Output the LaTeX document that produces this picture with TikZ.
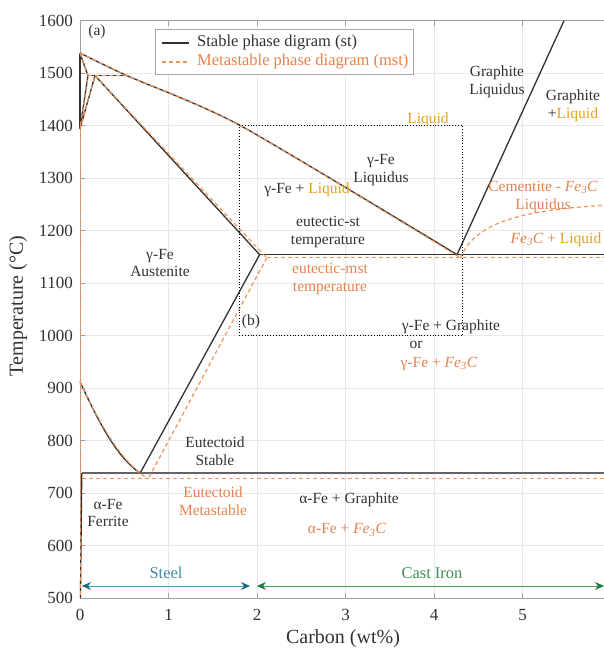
\documentclass[tikz,border=0pt]{standalone}
\usepackage{fontspec}
\setmainfont{Liberation Serif}
\usetikzlibrary{arrows.meta}
\definecolor{stc}{RGB}{50,50,50}
\definecolor{mstc}{RGB}{236,150,92}
\definecolor{orgtxt}{RGB}{228,130,80}
\definecolor{goldc}{RGB}{232,160,30}
\definecolor{steelc}{RGB}{80,165,195}
\definecolor{steelh}{RGB}{25,105,130}
\definecolor{castc}{RGB}{70,160,95}
\definecolor{casth}{RGB}{30,120,55}
\tikzset{
  gridc/.style={draw=gray!18, line width=0.6pt},
  framec/.style={draw=gray!75, line width=0.8pt},
  stl/.style={draw=stc, line width=1.3pt, line join=round},
  stthick/.style={draw=stc!75, line width=2.2pt},
  mst/.style={draw=mstc, line width=1.2pt, dash pattern=on 4pt off 3pt},
  lab/.style={font=\fontsize{15.5}{17.5}\selectfont, align=center, inner sep=0pt, text=stc},
  olab/.style={lab, text=orgtxt},
  ticklab/.style={font=\fontsize{17}{19}\selectfont, inner sep=0pt, text=stc},
  axlab/.style={font=\fontsize{20}{22}\selectfont, inner sep=0pt, text=stc},
  legtxt/.style={font=\fontsize{16.5}{18}\selectfont, inner sep=0pt, anchor=west},
  steelarrow/.style={draw=steelc, line width=0.9pt, {Stealth[length=9pt,width=8pt,color=steelh,fill=steelh]}-{Stealth[length=9pt,width=8pt,color=steelh,fill=steelh]}},
  castarrow/.style={draw=castc, line width=0.9pt, {Stealth[length=9pt,width=8pt,color=casth,fill=casth]}-{Stealth[length=9pt,width=8pt,color=casth,fill=casth]}},
}
\newcommand{\FeC}{\textit{Fe\textsubscript{3}C}}
\begin{document}
\begin{tikzpicture}
\useasboundingbox (-80pt,-52pt) rectangle (524pt,598pt);
\fill[white] (-80pt,-52pt) rectangle (524pt,598pt);
% ---------- data coordinates: (wt% C, temperature) ----------
\begin{scope}[x=88.5pt,y=0.525pt,yshift=-262.5pt]
  % grid
  \foreach \c in {1,...,5} \draw[gridc] (\c,500) -- (\c,1600);
  \foreach \t in {600,700,...,1500} \draw[gridc] (0,\t) -- (5.92,\t);
  % frame and ticks
  \draw[framec] (5.92,1600) -- (0,1600) -- (0,500) -- (5.92,500);
  \foreach \c in {1,...,5} {
    \draw[framec] (\c,500) -- ++(0pt,5pt);
    \draw[framec] (\c,1600) -- ++(0pt,-5pt);
  }
  \foreach \t in {600,700,...,1500} \draw[framec] (0,\t) -- ++(5pt,0pt);
  % tick labels
  \foreach \c in {0,...,5} \node[ticklab] (xt\c) at ([yshift=-17pt]\c,500) {\c};
  \foreach \t in {500,600,...,1600} \node[ticklab, anchor=east] (yt\t) at ([xshift=-7pt]0,\t) {\t};

  % ---------- stable diagram (solid) ----------
  \draw[stl] plot[smooth, tension=0.4] coordinates {(0,1538) (0.53,1495) (1.8,1401) (4.26,1154)};
  \draw[stl] (0,1538) -- (0.09,1495) -- (0,1394) -- (0.17,1495);
  \draw[stl] (0.09,1495) -- (0.53,1495);
  \draw[stl] (0,1538) -- (0,1394);
  \draw[stl] (0.17,1495) -- (2.03,1154);
  \draw[stl] (2.03,1154) -- (5.92,1154);
  \draw[stl] (2.03,1154) -- (0.68,738);
  \draw[stl] (0,912) .. controls (0.2,840) and (0.4,770) .. (0.68,738);
  \draw[stthick] (0.02,738) -- (5.92,738);
  \draw[stl] (0.02,738) -- (0.005,500);
  \draw[stl] (4.26,1154) -- (5.47,1600);

  % ---------- metastable diagram (dashed) ----------
  \draw[mst] plot[smooth, tension=0.4] coordinates {(0,1538) (0.53,1495) (1.8,1401) (4.3,1148)};
  \draw[mst] (0,1538) -- (0.09,1495) -- (0,1394) -- (0.17,1495);
  \draw[mst] (0.09,1495) -- (0.53,1495);
  \draw[mst] (0.17,1495) -- (2.11,1148);
  \draw[mst] (2.11,1148) -- (5.92,1148);
  \draw[mst] (2.11,1148) -- (0.77,727);
  \draw[mst] (0,912) .. controls (0.2,840) and (0.45,760) .. (0.77,727);
  \draw[mst] (0.02,727) -- (5.92,727);
  \draw[mst] (0.01,1394) -- (0.01,500);
  \draw[mst] (4.3,1148) .. controls (4.45,1210) and (4.9,1238) .. (5.92,1248);

  % ---------- zoom box (b) ----------
  \draw[black, line width=0.8pt, dotted] (1.8,1000) rectangle (4.32,1400);
\end{scope}

% ---------- pixel coordinates for labels ----------
\begin{scope}[x=1pt,y=-1pt,xshift=-80pt,yshift=598pt]
  % legend
  \draw[draw=gray!70, fill=white, line width=0.8pt] (155,29) rectangle (413,74);
  \coordinate (la) at (162,43); \coordinate (lb) at (189,43);
  \coordinate (lc) at (162,62); \coordinate (ld) at (189,62);
  \draw[stl] (la) -- (lb);
  \draw[mst] (lc) -- (ld);
  \node[legtxt, text=stc] (leg1) at (197,43) {Stable phase digram (st)};
  \node[legtxt, text=orgtxt] (leg2) at (197,62) {Metastable phase diagram (mst)};

  \node[lab] (pa) at (97,32) {(a)};
  \node[lab] (pb) at (251,322) {(b)};

  \node[lab] (gl) at (497,82) {Graphite\\Liquidus};
  \node[lab] (gpl) at (573,106) {Graphite\\+\textcolor{goldc}{Liquid}};
  \node[lab, text=goldc] (liq) at (428,120) {Liquid};
  \node[lab] (gfl) at (381,170) {γ-Fe\\Liquidus};
  \node[lab] (gfpl) at (307,190) {γ-Fe + \textcolor{goldc}{Liquid}};
  \node[lab] (eut) at (328,232) {eutectic-st\\temperature};
  \node[olab] (eum) at (330,279) {eutectic-mst\\temperature};
  \node[olab] (cem) at (543,197) {Cementite - \FeC\\Liquidus};
  \node[olab] (fcl) at (556,240) {\FeC{} + \textcolor{goldc}{Liquid}};
  \node[lab] (aus) at (160,263) {γ-Fe\\Austenite};
  \node[lab] (gg) at (451,327) {γ-Fe + Graphite};
  \node[lab] (or) at (416,345) {or};
  \node[olab] (gc) at (439,364) {γ-Fe + \FeC};
  \node[lab] (eus) at (215,451) {Eutectoid\\Stable};
  \node[olab] (eum2) at (213,501) {Eutectoid\\Metastable};
  \node[lab] (fer) at (108,513) {α-Fe\\Ferrite};
  \node[lab] (ag) at (349,500) {α-Fe + Graphite};
  \node[olab] (ac) at (347,530) {α-Fe + \FeC};

  % steel / cast iron
  \node[lab, text=steelc!85!black, font=\fontsize{16.5}{18}\selectfont] (steel) at (166,573) {Steel};
  \node[lab, text=castc!90!black, font=\fontsize{16.5}{18}\selectfont] (cast) at (432,573) {Cast Iron};
  \coordinate (s1) at (82,586); \coordinate (s2) at (250,586);
  \coordinate (c1) at (257,586); \coordinate (c2) at (604,586);
  \draw[steelarrow] (s1) -- (s2);
  \draw[castarrow] (c1) -- (c2);

  % axis titles
  \node[axlab] (xlab) at (343,639) {Carbon (wt\%)};
  \node[axlab, rotate=90] (ylab) at (18,306) {Temperature (°C)};
\end{scope}
\end{tikzpicture}
\end{document}
